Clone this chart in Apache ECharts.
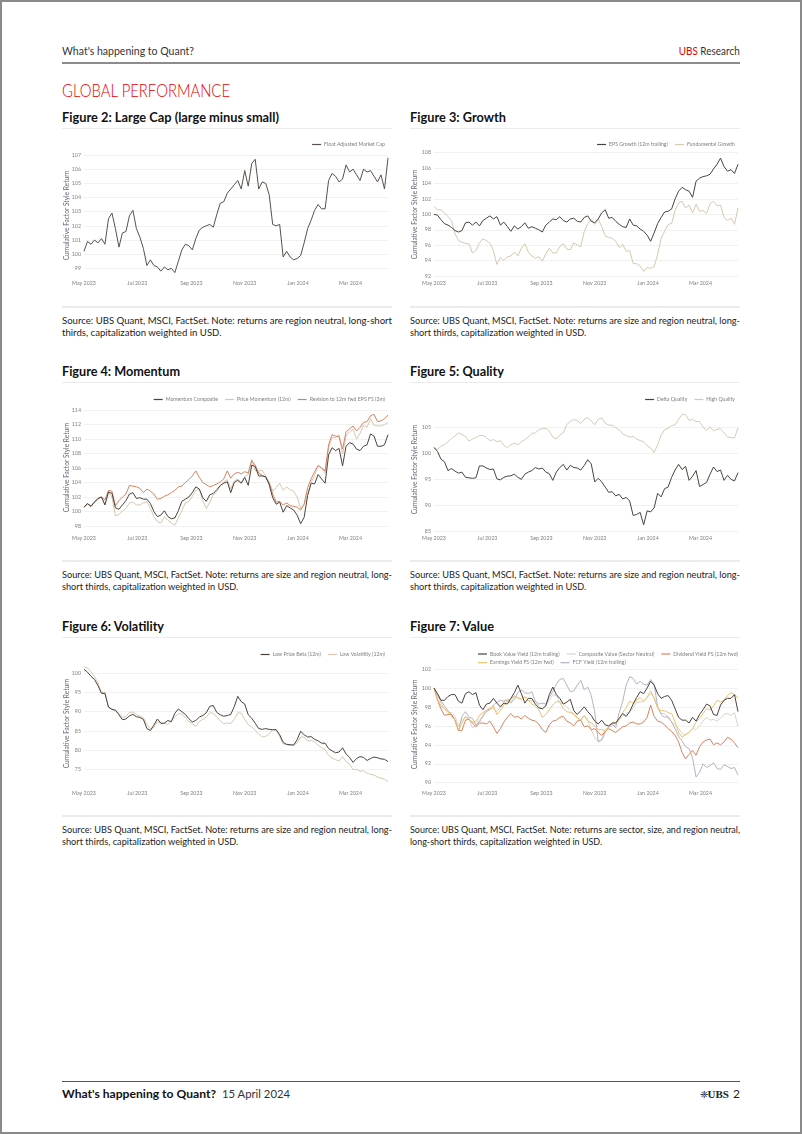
<!DOCTYPE html>
<html>
<head>
<meta charset="utf-8">
<script src="https://cdn.jsdelivr.net/npm/echarts@6/dist/echarts.min.js"></script>
<style>
html,body{margin:0;padding:0;background:#fff;}
#page{position:relative;width:802px;height:1134px;overflow:hidden;font-family:Lato,'Open Sans',sans-serif;color:#222;background:#fff;}
#frame{position:absolute;left:0;top:0;width:802px;height:1134px;box-sizing:border-box;border:2px solid #8a8a8a;pointer-events:none;z-index:5;}
.t{position:absolute;white-space:nowrap;}
.rule{position:absolute;}
.chart{position:absolute;width:340px;height:170px;}
.ytitle{position:absolute;white-space:nowrap;font-size:6.6px;line-height:7px;color:#5f6675;transform-origin:center center;z-index:3;}
</style>
</head>
<body>
<div id="page">
  <div id="frame"></div>
  <div class="chart" id="c2" style="left:60px;top:130px;"></div>
  <div class="chart" id="c3" style="left:410px;top:130px;"></div>
  <div class="chart" id="c4" style="left:60px;top:385px;"></div>
  <div class="chart" id="c5" style="left:410px;top:385px;"></div>
  <div class="chart" id="c6" style="left:60px;top:640px;"></div>
  <div class="chart" id="c7" style="left:410px;top:640px;"></div>
</div>
<script>
// ---------- data ----------
const startDate = '2023-05-01';
const stepDays = 4;
const monthTickDays = [0, 61, 123, 184, 245, 305];
const monthTickLabels = ['May 2023', 'Jul 2023', 'Sep 2023', 'Nov 2023', 'Jan 2024', 'Mar 2024'];
const yAxisTitle = 'Cumulative Factor Style Return';

const largeCap = [100.2,100.9,100.7,101.0,100.8,101.1,100.7,102.5,102.9,101.8,
100.5,101.5,101.6,102.7,103.1,101.8,101.2,100.4,99.2,99.6,
99.2,99.1,98.8,99.1,98.9,99.0,98.7,99.5,100.3,100.7,
100.6,100.3,101.1,101.7,101.9,102.0,102.1,101.9,102.8,103.6,
103.7,104.3,104.6,104.9,105.2,104.6,105.9,104.8,106.4,106.7,
104.6,105.1,105.0,104.2,102.1,102.0,102.1,99.8,100.2,99.8,
99.6,99.7,99.9,100.8,101.8,102.4,103.1,103.5,103.2,103.2,
105.2,105.7,105.5,105.1,105.3,106.3,105.8,106.0,105.6,105.2,
106.0,105.8,105.9,105.5,105.1,105.6,104.6,106.8];

const epsGrowth = [100.0,99.9,99.3,98.8,98.6,98.3,97.9,97.7,97.9,98.9,
99.0,98.6,99.0,98.5,99.2,99.5,99.8,99.4,99.7,98.6,
99.0,98.4,97.8,98.5,98.1,98.4,98.9,98.2,98.4,98.2,
98.0,97.7,98.6,99.0,99.4,99.3,99.7,99.2,99.0,99.4,
99.5,99.1,99.0,99.6,99.8,99.1,98.9,99.4,100.2,100.6,
99.5,99.6,99.1,98.7,98.4,98.3,99.4,98.6,98.5,98.1,
97.8,97.3,96.5,97.6,98.8,99.6,100.3,100.4,100.7,102.0,
103.0,103.5,103.2,103.0,102.2,104.3,104.7,104.9,105.0,105.2,
105.9,106.5,107.3,106.2,105.6,105.8,105.3,106.5];

const fundamentalGrowth = [101.0,100.6,100.6,100.2,99.7,99.2,97.5,96.6,96.4,96.2,
96.2,95.0,95.3,96.3,96.8,96.6,96.3,95.3,93.5,94.4,
94.0,94.5,94.6,95.1,94.6,95.6,96.2,95.1,94.6,94.3,
94.5,93.9,94.9,95.6,95.0,95.0,95.8,96.2,95.5,95.4,
96.3,96.0,95.8,97.8,98.8,99.3,98.7,99.4,98.4,97.2,
97.0,96.9,96.5,95.7,96.1,95.2,95.3,93.6,93.6,93.3,
92.6,93.1,93.0,93.2,94.8,96.9,97.8,98.7,98.8,100.5,
101.5,101.7,100.8,101.2,100.2,101.3,100.4,100.5,100.1,101.4,
101.7,101.1,101.2,99.6,99.2,99.5,98.7,100.8];

const momentumComposite = [100.6,101.1,100.7,101.3,101.8,102.0,100.9,102.7,102.5,100.5,
100.3,100.9,101.5,102.4,102.6,101.8,101.9,101.7,101.7,101.1,
100.0,99.3,99.5,100.1,99.3,99.0,99.1,100.1,101.4,101.7,
102.0,102.6,103.4,103.1,101.9,101.4,102.3,102.5,103.0,103.6,
103.9,104.1,102.6,104.0,104.3,103.9,104.7,103.6,106.4,106.2,
104.9,104.9,104.8,103.7,101.9,101.0,101.3,99.9,100.8,100.5,
100.2,99.5,98.3,99.2,102.2,103.9,103.8,105.1,104.5,103.9,
107.8,108.8,108.4,108.7,106.3,109.0,109.5,109.3,108.6,108.4,
109.0,109.2,110.7,110.4,109.0,109.0,109.2,110.6];

const priceMomentum = [100.6,101.1,100.7,101.2,101.7,102.0,101.0,102.6,102.0,99.4,
99.6,100.1,100.4,101.2,101.3,100.9,100.9,101.2,101.4,100.4,
99.3,98.6,98.4,99.3,98.8,98.4,98.1,99.1,100.1,101.2,
101.4,102.1,102.9,103.1,101.5,100.4,101.3,102.3,102.7,103.5,
104.1,104.4,103.1,104.2,104.5,104.0,104.8,105.1,107.2,105.6,
105.6,105.7,104.9,104.1,102.8,103.3,103.9,102.9,103.4,103.0,
102.8,102.0,100.4,101.0,102.5,104.0,105.0,106.4,106.0,105.3,
108.8,110.2,110.2,110.6,107.9,110.4,111.0,111.3,110.0,110.8,
111.9,111.6,112.8,111.9,111.8,111.8,112.0,112.3];

const epsRevision = [100.6,101.0,100.8,101.3,101.8,102.0,101.6,102.9,102.8,100.8,
101.5,102.0,102.4,103.6,103.5,103.4,103.2,102.6,103.1,102.8,
102.4,101.7,101.8,102.1,102.3,102.6,102.9,103.4,103.5,104.0,
104.4,104.9,105.6,104.7,104.0,103.7,103.4,103.6,103.8,104.1,
104.5,105.6,104.6,105.2,105.4,105.2,105.5,105.3,107.0,106.4,
105.3,105.0,104.7,103.9,102.4,101.3,101.4,100.9,101.2,100.8,
100.7,100.6,100.2,101.0,103.3,104.5,105.5,106.3,106.0,105.6,
109.2,110.6,110.4,110.3,108.6,111.0,111.4,111.8,111.1,111.6,
112.3,112.4,113.2,113.4,112.4,112.5,112.8,113.3];

const deltaQuality = [101.2,100.4,98.9,98.4,96.7,97.1,96.6,96.2,96.4,95.4,
95.3,95.2,95.3,97.6,97.6,97.2,96.9,97.0,95.1,94.9,
95.4,95.6,95.7,96.0,95.4,95.0,96.0,96.4,96.7,97.3,
97.0,97.2,96.4,96.1,94.8,96.4,97.3,97.9,96.8,97.7,
97.3,97.2,96.8,97.7,98.8,98.0,94.5,95.2,94.5,93.5,
92.5,92.6,91.8,92.1,91.2,91.5,90.8,88.0,88.2,88.6,
86.2,88.9,88.7,89.5,92.3,91.6,93.2,93.5,95.4,96.8,
97.9,96.9,97.5,94.8,95.6,96.7,93.6,94.0,94.4,96.0,
97.4,96.5,96.8,94.8,95.8,95.0,94.7,96.3];

const highQuality = [101.0,100.8,101.4,101.7,102.3,102.9,103.4,104.0,103.7,103.3,
102.4,102.8,103.1,103.5,103.5,103.1,102.5,102.7,102.3,102.5,
101.6,101.1,101.7,102.0,101.7,102.3,102.7,103.2,103.9,104.0,
104.6,104.8,104.9,104.3,103.2,102.8,103.6,104.0,105.6,106.2,
106.6,106.4,105.8,106.6,107.0,106.3,105.6,106.6,106.9,105.9,
105.5,105.5,105.0,104.6,103.8,103.5,103.2,103.3,102.8,102.5,
102.3,101.5,101.1,100.2,101.7,103.6,104.6,104.9,105.4,105.6,
106.6,107.6,107.5,106.4,106.6,106.2,106.2,105.1,104.5,105.2,
104.4,104.7,104.8,104.0,103.2,103.1,103.0,105.0];

const lowPriceBeta = [101.0,100.3,99.2,98.4,96.8,94.8,94.7,91.2,90.6,90.4,
89.2,87.9,88.1,88.9,89.3,88.7,88.5,88.0,85.6,85.1,
86.5,88.1,87.0,87.0,87.7,87.4,89.6,90.7,90.0,89.3,
88.2,87.3,87.7,88.6,89.0,89.7,91.4,91.6,89.8,89.2,
88.8,89.0,89.3,91.3,94.0,92.6,92.0,89.2,88.3,87.0,
85.6,85.4,85.6,85.4,85.3,85.3,84.0,82.0,81.5,81.4,
81.3,82.7,84.9,84.0,83.4,83.5,82.8,82.4,81.8,81.8,
80.4,79.8,79.3,79.5,80.6,79.0,78.1,76.8,77.8,78.3,
78.1,77.3,77.8,78.2,78.0,77.7,77.6,77.0];

const lowVolatility = [101.6,101.4,100.4,99.1,97.5,94.9,95.2,91.2,90.7,90.2,
89.6,88.5,88.8,89.8,89.9,89.3,88.9,88.4,86.6,85.6,
85.9,87.4,86.8,87.1,86.6,87.6,88.6,89.5,89.4,88.4,
87.5,86.9,86.1,87.5,88.0,88.6,89.7,89.6,88.6,87.6,
86.8,87.1,86.9,88.0,89.7,89.6,88.0,86.6,86.0,85.2,
84.2,83.4,83.6,84.2,85.4,85.2,83.5,81.6,81.4,81.2,
81.3,81.9,83.4,83.4,82.3,82.6,82.1,81.3,80.6,80.1,
78.6,77.9,77.5,77.2,78.3,77.0,76.4,74.9,75.0,74.5,
74.6,74.0,73.7,73.5,73.0,72.7,72.4,71.8];

const bookValueYield = [100.0,99.4,98.7,98.7,99.1,99.3,99.3,98.6,98.4,99.4,
99.6,99.3,99.5,98.2,97.7,98.3,98.4,98.9,98.4,98.0,
98.4,98.3,98.9,99.5,100.3,99.4,98.4,98.9,98.9,98.3,
97.9,97.8,98.1,99.3,100.1,99.3,98.9,98.3,98.5,98.8,
97.6,97.2,97.6,98.0,97.5,97.1,96.5,96.2,96.6,96.1,
96.0,96.3,96.3,96.8,97.3,97.0,97.5,98.3,99.0,99.6,
99.4,100.0,100.7,100.3,99.4,98.9,99.1,99.2,98.7,97.8,
96.9,96.6,96.6,96.3,96.9,96.5,97.2,97.7,98.3,98.1,
97.2,97.1,98.2,98.7,98.9,98.9,99.3,97.5];

const compositeValue = [100.0,99.2,98.4,97.8,97.4,97.4,97.0,96.0,96.6,96.9,
96.8,95.8,96.0,96.6,97.1,97.7,97.9,97.8,97.5,98.0,
98.6,98.9,98.5,99.2,98.9,98.8,99.0,98.7,98.6,98.6,
98.1,97.8,98.2,98.7,99.3,99.2,98.5,98.3,98.0,97.6,
97.1,96.8,96.6,97.1,96.6,95.6,94.7,94.4,94.6,95.6,
95.9,96.0,96.1,96.6,97.0,97.3,97.5,97.9,98.5,98.5,
98.6,99.0,99.4,99.0,97.9,97.3,97.3,96.8,96.4,96.1,
95.7,95.2,95.0,95.3,95.7,95.6,96.0,96.5,96.9,96.6,
96.7,96.5,96.8,97.2,97.3,97.1,97.4,95.9];

const dividendYield = [100.0,98.7,97.8,97.1,97.2,97.2,96.6,95.5,95.5,96.6,
96.7,96.3,95.9,96.3,96.3,96.2,96.5,95.9,95.2,95.7,
96.4,96.9,97.3,96.9,97.0,96.7,97.1,96.8,96.6,96.5,
96.2,95.6,95.3,96.1,96.5,96.6,96.9,97.0,96.5,96.3,
96.0,96.5,96.6,95.9,96.0,95.6,95.7,95.3,95.0,95.4,
95.7,95.5,95.3,95.6,95.9,96.0,96.3,96.4,96.2,96.2,
96.4,96.9,98.2,97.0,96.5,96.4,96.1,95.7,95.4,95.0,
94.3,93.2,92.5,93.0,93.4,92.9,93.8,94.3,94.5,94.6,
94.0,94.2,94.0,94.3,94.8,94.6,94.2,93.7];

const earningsYield = [100.0,98.8,98.1,97.8,97.5,97.0,96.6,95.5,96.3,97.0,
96.7,96.4,96.4,97.1,97.4,97.6,97.8,98.1,97.2,97.6,
98.2,98.6,98.9,99.1,99.0,98.8,99.1,98.7,98.3,98.1,
97.7,96.9,97.2,97.7,98.2,98.6,98.5,97.8,97.5,97.4,
97.3,96.9,96.6,97.1,96.5,96.3,96.0,95.6,95.6,95.4,
95.8,96.3,96.3,96.7,97.4,97.9,98.6,98.4,98.7,99.0,
98.6,99.0,99.7,98.9,97.9,97.6,97.6,97.4,97.3,96.4,
95.3,94.8,95.1,95.3,95.7,96.4,96.8,97.3,97.8,97.7,
98.1,98.7,98.5,98.7,99.2,99.5,99.3,98.9];

const fcfYield = [100.0,99.3,98.6,98.1,97.6,97.2,96.6,95.5,97.0,97.5,
96.9,96.8,96.1,96.4,97.0,97.5,97.7,98.2,98.5,98.7,
98.6,98.7,98.4,98.8,99.5,99.8,99.5,99.4,99.6,98.6,
98.3,98.4,98.3,99.1,99.6,100.4,100.9,101.0,100.3,99.6,
99.7,100.3,100.8,99.8,100.1,99.2,97.5,94.3,94.5,95.3,
95.9,96.2,95.8,97.4,98.6,100.3,101.2,101.0,100.4,100.7,
100.4,100.3,100.9,100.4,98.0,97.2,96.9,97.0,96.4,95.7,
94.9,94.4,93.8,93.6,92.6,90.6,91.1,92.0,91.6,91.8,
92.1,91.5,91.4,91.9,91.7,91.5,91.6,90.8];

const yTicksLargeCap = [99, 100, 101, 102, 103, 104, 105, 106, 107];
const yTicksGrowth = [92, 94, 96, 98, 100, 102, 104, 106, 108];
const yTicksMomentum = [98, 100, 102, 104, 106, 108, 110, 112, 114];
const yTicksQuality = [85, 90, 95, 100, 105];
const yTicksVolatility = [75, 80, 85, 90, 95, 100];
const yTicksValue = [90, 92, 94, 96, 98, 100, 102];

// ---------- colours ----------
const C_DARK = '#4b423c';
const C_TAN = '#d9c7ae';
const C_ORANGE = '#d5825f';
const C_GOLD = '#eac26a';
const C_LILAC = '#b7b0c6';
const C_BEIGE = '#dcd2c6';

// ---------- page text ----------
const page = document.getElementById('page');
function addText(html, x, yc, size, opts) {
  opts = opts || {};
  const el = document.createElement('div');
  el.className = 't';
  el.innerHTML = html;
  el.style.fontSize = size + 'px';
  el.style.lineHeight = size + 'px';
  el.style.top = (yc - size / 2) + 'px';
  el.style.fontWeight = opts.weight || 400;
  el.style.color = opts.color || '#222';
  if (opts.family) el.style.fontFamily = opts.family;
  el.style.left = '0px';
  page.appendChild(el);
  const w = el.getBoundingClientRect().width;
  const sc = opts.width ? opts.width / w : (opts.scale || 1);
  if (opts.align === 'right') {
    el.style.left = (x - w) + 'px';
    el.style.transformOrigin = 'right center';
  } else {
    el.style.left = x + 'px';
    el.style.transformOrigin = 'left center';
  }
  el.style.transform = 'scaleX(' + sc + ')';
  return sc;
}
function addRule(x, y, w, h, color) {
  const r = document.createElement('div');
  r.className = 'rule';
  r.style.left = x + 'px'; r.style.top = y + 'px';
  r.style.width = w + 'px'; r.style.height = h + 'px';
  r.style.background = color;
  page.appendChild(r);
}
function addYTitle(cx, cy) {
  const el = document.createElement('div');
  el.className = 'ytitle';
  el.textContent = yAxisTitle;
  page.appendChild(el);
  const r = el.getBoundingClientRect();
  el.style.left = (cx - r.width / 2) + 'px';
  el.style.top = (cy - r.height / 2) + 'px';
  el.style.transform = 'rotate(-90deg)';
}

// header
addText("What's happening to Quant?", 62, 51, 12, {width: 132, color: '#333'});
addText('<span style="color:#e60000">UBS</span> Research', 740, 51, 12, {width: 61, align: 'right', color: '#333'});
addRule(62, 62, 678, 2, '#8c8c8c');
addText('GLOBAL PERFORMANCE', 62, 91, 17.5, {width: 168, color: '#e60000', weight: 300});

const colX = [62, 410];
const rowTitleY = [118, 372, 627];
const figTitles = [
  ['Figure 2: Large Cap (large minus small)', 217],
  ['Figure 3: Growth', 96],
  ['Figure 4: Momentum', 118],
  ['Figure 5: Quality', 94],
  ['Figure 6: Volatility', 102],
  ['Figure 7: Value', 84]
];
const sourceA = 'Source: UBS Quant, MSCI, FactSet. Note: returns are region neutral, long-short';
const sourceB = 'thirds, capitalization weighted in USD.';
const sizeA = 'Source: UBS Quant, MSCI, FactSet. Note: returns are size and region neutral, long-';
const sizeB = 'short thirds, capitalization weighted in USD.';
const sources = [
  [sourceA, sourceB],
  [sizeA, sizeB], [sizeA, sizeB], [sizeA, sizeB], [sizeA, sizeB],
  ['Source: UBS Quant, MSCI, FactSet. Note: returns are sector, size, and region neutral,', 'long-short thirds, capitalization weighted in USD.']
];
// vertical centre of each plot (relative to its chart box) for the axis titles
const plotMid = [85.5, 84.4, 83, 85, 84.5, 85.8];
for (let i = 0; i < 6; i++) {
  const col = i % 2, row = Math.floor(i / 2);
  const x = colX[col];
  const ty = rowTitleY[row];
  addText(figTitles[i][0], x, ty, 12.5, {width: figTitles[i][1], weight: 700, color: '#111'});
  addRule(x, ty + 9.5, 330, 1.5, '#ebebeb');
  addRule(x, ty + 188, 330, 1.5, '#ebebeb');
  const sc = addText(sources[i][0], x, ty + 203, 9.6, {width: 330, color: '#222'});
  addText(sources[i][1], x, ty + 215, 9.6, {scale: sc, color: '#222'});
  addYTitle(x + 4.5, ty + 12 + plotMid[i]);
}

// footer
addRule(62, 1081, 678, 1, '#555');
addText("What's happening to Quant?", 62, 1094, 12, {width: 154, weight: 700, color: '#111'});
addText('15 April 2024', 222, 1094, 12, {width: 68, color: '#333'});
addText('2', 740, 1094, 12, {align: 'right', color: '#222'});
addText('<span style="font-size:10px">❈</span><b>UBS</b>', 729, 1094, 11, {align: 'right', color: '#222', family: "'Liberation Serif', serif"});

// ---------- charts ----------
function pairs(values) { return values.map((v, i) => [i * stepDays, v]); }

function buildChart(id, cfg) {
  const chart = echarts.init(document.getElementById(id), null, {renderer: 'canvas'});
  const legendBase = {
    icon: 'rect', itemWidth: 9, itemHeight: 1.2, itemGap: 7,
    textStyle: {fontSize: 5.2, color: '#7f7f7f', fontFamily: 'Lato', padding: [0, 0, 0, -2]},
    padding: 0
  };
  const legends = cfg.legends.map(l => Object.assign({}, legendBase, l));
  chart.setOption({
    animation: false,
    textStyle: {fontFamily: 'Lato'},
    grid: {left: 24, right: 12, top: cfg.top, bottom: cfg.bottom, containLabel: false, outerBoundsMode: 'none'},
    legend: legends,
    xAxis: {
      type: 'value', min: 0, max: 348,
      axisLine: {show: false},
      axisTick: {show: false, customValues: monthTickDays},
      splitLine: {show: false},
      axisLabel: {
        customValues: monthTickDays,
        formatter: v => { const j = monthTickDays.indexOf(Math.round(v)); return j >= 0 ? monthTickLabels[j] : ''; },
        fontSize: 5.3, color: '#808080', margin: cfg.xMargin, fontFamily: 'Lato'
      }
    },
    yAxis: {
      type: 'value', min: cfg.min, max: cfg.max,
      axisLine: {show: false},
      axisTick: {show: false, customValues: cfg.ticks},
      axisLabel: {customValues: cfg.ticks, fontSize: 5.3, color: '#808080', margin: 3, fontFamily: 'Lato'},
      splitLine: {show: true, lineStyle: {color: '#eeeeee', width: 0.8}}
    },
    series: cfg.series.map(s => ({
      name: s.name, type: 'line', data: pairs(s.data), symbol: 'none', showSymbol: false,
      lineStyle: {color: s.color, width: 1}, itemStyle: {color: s.color}, z: s.z || 2
    }))
  });
}

buildChart('c2', {
  top: 25, bottom: 24, min: 98.46, max: 107, ticks: yTicksLargeCap, xMargin: 5,
  legends: [{right: 15, top: 12, data: ['Float Adjusted Market Cap']}],
  series: [{name: 'Float Adjusted Market Cap', data: largeCap, color: '#5a5049'}]
});

buildChart('c3', {
  top: 22.7, bottom: 24, min: 92, max: 108, ticks: yTicksGrowth, xMargin: 5,
  legends: [{right: 15, top: 12, data: ['EPS Growth (12m trailing)', 'Fundamental Growth']}],
  series: [
    {name: 'EPS Growth (12m trailing)', data: epsGrowth, color: C_DARK, z: 3},
    {name: 'Fundamental Growth', data: fundamentalGrowth, color: C_TAN, z: 2}
  ]
});

buildChart('c4', {
  top: 25, bottom: 29, min: 98, max: 114, ticks: yTicksMomentum, xMargin: 9.3,
  legends: [{right: 15, top: 12, data: ['Momentum Composite', 'Price Momentum (12m)', 'Revision to 12m fwd EPS FS (3m)']}],
  series: [
    {name: 'Momentum Composite', data: momentumComposite, color: C_DARK, z: 4},
    {name: 'Price Momentum (12m)', data: priceMomentum, color: C_TAN, z: 2},
    {name: 'Revision to 12m fwd EPS FS (3m)', data: epsRevision, color: C_ORANGE, z: 3}
  ]
});

buildChart('c5', {
  top: 23.6, bottom: 24, min: 85, max: 108.7, ticks: yTicksQuality, xMargin: 4.5,
  legends: [{right: 15, top: 12, data: ['Delta Quality', 'High Quality']}],
  series: [
    {name: 'Delta Quality', data: deltaQuality, color: C_DARK, z: 3},
    {name: 'High Quality', data: highQuality, color: '#d8c9b6', z: 2}
  ]
});

buildChart('c6', {
  top: 23.3, bottom: 24.2, min: 70.7, max: 102.6, ticks: yTicksVolatility, xMargin: 4.5,
  legends: [{right: 15, top: 12, data: ['Low Price Beta (12m)', 'Low Volatility (12m)']}],
  series: [
    {name: 'Low Price Beta (12m)', data: lowPriceBeta, color: C_DARK, z: 3},
    {name: 'Low Volatility (12m)', data: lowVolatility, color: C_TAN, z: 2}
  ]
});

buildChart('c7', {
  top: 29, bottom: 27.3, min: 90, max: 102, ticks: yTicksValue, xMargin: 7.6,
  legends: [
    {left: 68, top: 11.5, data: ['Book Value Yield (12m trailing)', 'Composite Value (Sector Neutral)', 'Dividend Yield FS (12m fwd)']},
    {left: 68, top: 20.2, data: ['Earnings Yield FS (12m fwd)', 'FCF Yield (12m trailing)']}
  ],
  series: [
    {name: 'Book Value Yield (12m trailing)', data: bookValueYield, color: C_DARK, z: 6},
    {name: 'Composite Value (Sector Neutral)', data: compositeValue, color: C_BEIGE, z: 2},
    {name: 'Dividend Yield FS (12m fwd)', data: dividendYield, color: C_ORANGE, z: 4},
    {name: 'Earnings Yield FS (12m fwd)', data: earningsYield, color: C_GOLD, z: 5},
    {name: 'FCF Yield (12m trailing)', data: fcfYield, color: C_LILAC, z: 3}
  ]
});
</script>
</body>
</html>
